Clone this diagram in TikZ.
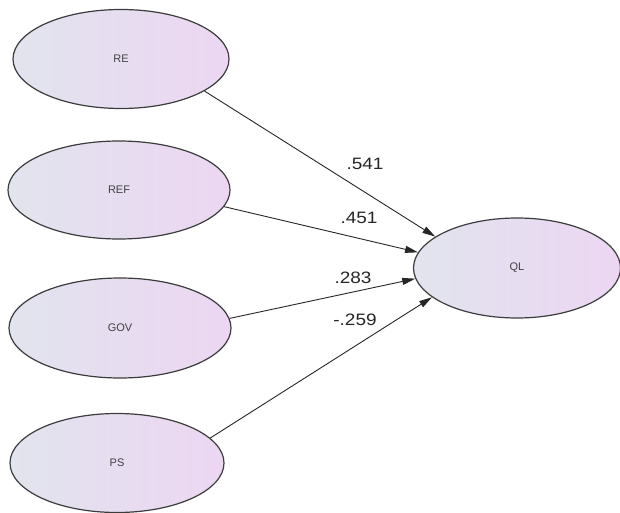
\documentclass[tikz,border=0pt]{standalone}
\usepackage{fontspec}
\setmainfont{Liberation Sans}
\usetikzlibrary{shapes.geometric,arrows.meta}
\definecolor{lfill}{RGB}{226,228,238}
\definecolor{rfill}{RGB}{236,214,242}
\definecolor{edgegray}{RGB}{60,60,60}
\newcommand{\coeftext}[1]{\scalebox{1.15}[1]{#1}}
\begin{document}
\begin{tikzpicture}[x=1pt,y=-1pt,
  latent/.style={ellipse,draw=edgegray,line width=1.2pt,minimum width=#1,left color=lfill,right color=rfill,font=\fontsize{11}{13}\selectfont,text=black!75,inner sep=0pt},
  latent/.default={214pt},
  path/.style={draw=black!85,line width=0.9pt,-{Triangle[length=13pt,width=7pt]}},
  coef/.style={font=\fontsize{16.5}{18}\selectfont,text=black!85}]
\useasboundingbox (0,0) rectangle (620,513);
\node[latent={216pt},minimum height=99pt] (RE) at (121,59) {RE};
\node[latent={222pt},minimum height=98pt] (REF) at (119,190) {REF};
\node[latent={222pt},minimum height=100pt] (GOV) at (120,328) {GOV};
\node[latent={214pt},minimum height=99pt] (PS) at (117,463) {PS};
\node[latent={207pt},minimum height=100pt] (QL) at (517,268) {QL};
\draw[path] (RE.-21.4) -- (QL.159.7);
\draw[path] (REF.-9.6) -- (QL.171.8);
\draw[path] (GOV.5) -- (QL.186.6);
\draw[path] (PS.15) -- (QL.199.4);
\node[coef] (c1) at (365,164) {\coeftext{.541}};
\node[coef] (c2) at (359,218) {\coeftext{.451}};
\node[coef] (c3) at (353,278) {\coeftext{.283}};
\node[coef] (c4) at (355,320) {\coeftext{-.259}};
\end{tikzpicture}
\end{document}
